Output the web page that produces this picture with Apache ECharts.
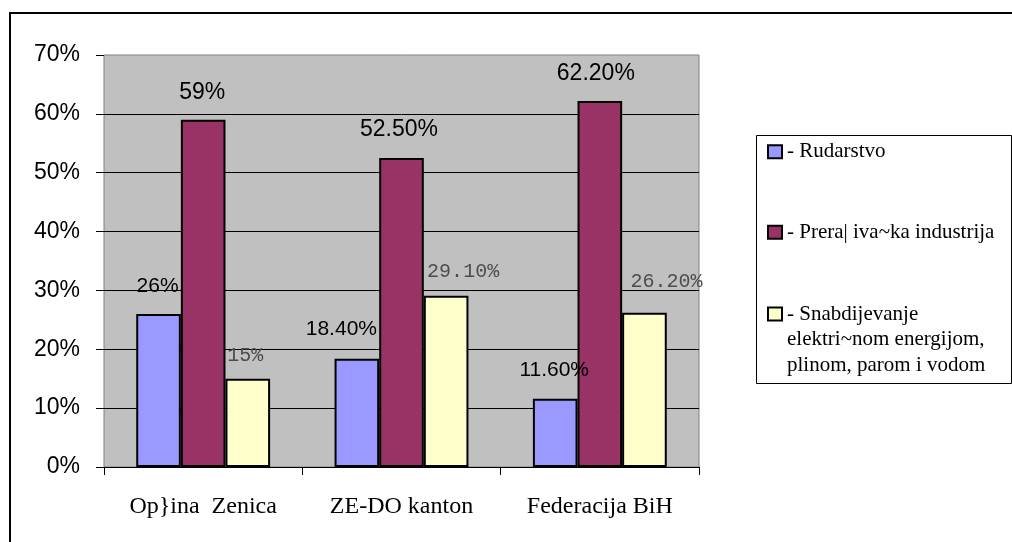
<!DOCTYPE html>
<html>
<head>
<meta charset="utf-8">
<script src="https://cdn.jsdelivr.net/npm/echarts@6/dist/echarts.min.js"></script>
<style>
html,body{margin:0;padding:0;background:#fff;}
#chart{width:1012px;height:542px;}
</style>
</head>
<body>
<div id="chart"></div>
<script>
// ---- data ----
var categories = ['Op}ina  Zenica', 'ZE-DO kanton', 'Federacija BiH'];
var seriesNames = ['- Rudarstvo', '- Prera| iva~ka industrija', '- Snabdijevanje\nelektri~nom energijom,\nplinom, parom i vodom'];
var rudarstvo = [26, 18.4, 11.6];
var preradjivacka = [59, 52.5, 62.2];
var snabdijevanje = [15, 29.1, 26.2];
var yTicks = [0, 10, 20, 30, 40, 50, 60, 70];

// ---- presentation ----
var colors = ['#9999FF', '#993366', '#FFFFCC'];
var labelShift = [
  [[-1, -17.5], [-15.5, -18.8], [-1, -17.8]],
  [[-1, -15.5], [-2.5, -16.8], [-4, -16.2]],
  [[-2.5, -13], [17, -14.3], [22, -21]]
];
var labelFont = [
  {fontFamily: 'Liberation Sans, Arial, sans-serif', fontSize: 21, lineHeight: 21, color: '#000'},
  {fontFamily: 'Liberation Sans, Arial, sans-serif', fontSize: 23, lineHeight: 23, color: '#000'},
  {fontFamily: 'Liberation Mono, Courier New, monospace', fontSize: 20, lineHeight: 20, color: '#4d4d4d'}
];
function fmt(v) {
  return (Math.round(v) === v ? String(v) : v.toFixed(2)) + '%';
}
function buildSeries(idx, values) {
  return {
    name: seriesNames[idx],
    type: 'bar',
    barGap: 0,
    barCategoryGap: '32.5%',
    itemStyle: {color: colors[idx], borderColor: '#000', borderWidth: 2},
    data: values.map(function (v, i) {
      return {value: v, label: {offset: labelShift[idx][i]}};
    }),
    label: Object.assign({
      show: true,
      position: 'top',
      distance: 0,
      formatter: function (p) { return fmt(p.value); }
    }, labelFont[idx]),
    emphasis: {disabled: true},
    animation: false
  };
}
function legendFor(idx, top, text) {
  return {
    data: [seriesNames[idx]],
    orient: 'vertical',
    left: 767,
    top: top,
    padding: 0,
    icon: 'rect',
    itemWidth: 14,
    itemHeight: 13,
    itemGap: 0,
    itemTextGap: 5,
    selectedMode: false,
    formatter: function () { return text; },
    textStyle: {fontFamily: 'Liberation Serif, Times New Roman, serif', fontSize: 21, lineHeight: 25.5, color: '#000'}
  };
}

var chart = echarts.init(document.getElementById('chart'), null, {renderer: 'canvas'});
chart.setOption({
  backgroundColor: '#fff',
  animation: false,
  grid: {
    left: 104, right: 313, top: 55, bottom: 75,
    show: true, backgroundColor: '#C0C0C0', borderColor: '#808080', borderWidth: 1
  },
  xAxis: {
    type: 'category',
    data: categories,
    axisLine: {lineStyle: {color: '#000', width: 1}},
    axisTick: {show: true, length: 8, lineStyle: {color: '#000'}},
    axisLabel: {
      margin: 28, color: '#000',
      fontFamily: 'Liberation Serif, Times New Roman, serif', fontSize: 24, lineHeight: 24
    }
  },
  yAxis: {
    type: 'value',
    min: yTicks[0],
    max: yTicks[yTicks.length - 1],
    interval: yTicks[1] - yTicks[0],
    axisLine: {show: false},
    axisTick: {show: true, length: 8, lineStyle: {color: '#000'}},
    splitLine: {show: true, showMaxLine: false, lineStyle: {color: '#000', width: 1}},
    axisLabel: {
      margin: 24, color: '#000',
      fontFamily: 'Liberation Sans, Arial, sans-serif', fontSize: 23,
      formatter: '{value}%'
    }
  },
  legend: [
    legendFor(0, 139, seriesNames[0]),
    legendFor(1, 219.5, seriesNames[1]),
    legendFor(2, 250.25, '\n\n' + seriesNames[2])
  ],
  graphic: [
    {type: 'rect', shape: {x: 10, y: 13, width: 1100, height: 600}, style: {fill: 'none', stroke: '#000', lineWidth: 2}, z: 100, silent: true},
    {type: 'rect', shape: {x: 756.5, y: 135.5, width: 255, height: 248}, style: {fill: 'none', stroke: '#000', lineWidth: 1}, z: 100, silent: true}
  ],
  series: [
    buildSeries(0, rudarstvo),
    buildSeries(1, preradjivacka),
    buildSeries(2, snabdijevanje)
  ]
});
</script>
</body>
</html>
